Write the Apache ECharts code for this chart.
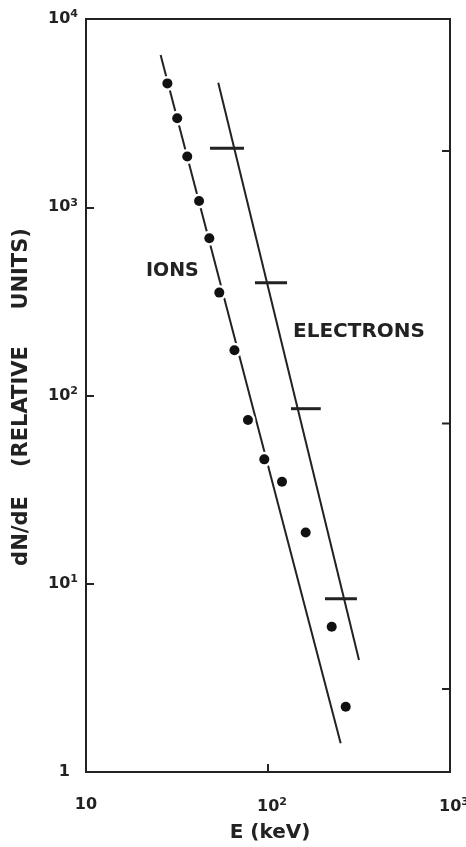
<!DOCTYPE html>
<html><head><meta charset="utf-8">
<script src="https://cdn.jsdelivr.net/npm/echarts@6/dist/echarts.min.js"></script>
<style>html,body{margin:0;padding:0;background:#fff}#c{width:466px;height:847px}</style>
</head><body><div id="c"></div>
<script>
// Ion data points (E in keV, dN/dE relative)
const ionE = [28.0, 31.7, 36.0, 41.8, 47.6, 54.0, 65.4, 77.6, 95.4, 119.4, 161.1, 223.9, 267.3];
const ionN = [4550, 2970, 1860, 1080, 684, 352, 174, 74.1, 45.8, 34.8, 18.7, 5.91, 2.22];
// Ion power-law fit line endpoints
const ionFitE = [25.7, 250.8];
const ionFitN = [6440, 1.42];
// Electron power-law fit line endpoints
const eleFitE = [53.3, 316.2];
const eleFitN = [4590, 3.94];
// Electron energy-channel bars
const eleLo = [48.0, 84.8, 133.8, 205.6];
const eleHi = [73.8, 127.2, 194.9, 308.0];
const eleN = [2056, 397, 85.1, 8.33];
// Extra inward ticks on the right frame
const rightTickN = [1990, 71, 2.76];
// Tick labels
const xTickVals = [10, 100, 1000];
const xTickLabels = ['10', '{m|10}{s|2}', '{m|10}{s|3}'];
const yTickVals = [1, 10, 100, 1000, 10000];
const yTickLabels = ['{o|1}', '10{s|1}', '10{s|2}', '10{s|3}', '10{s|4}'];

const INK = '#222';
const FONT = 'DejaVu Sans';
function lab(vals, labs) {
  return function (v) {
    for (let i = 0; i < vals.length; i++) if (Math.abs(Math.log10(v) - Math.log10(vals[i])) < 1e-6) return labs[i];
    return '';
  };
}
const rich = {
  s: { fontSize: 11, fontWeight: 'bold', fontFamily: FONT, color: INK, padding: [0, 0, 9, 0] },
  m: { fontSize: 16, fontWeight: 'bold', fontFamily: FONT, color: INK, padding: [0, 0, 0, 8] },
  o: { fontSize: 16, fontWeight: 'bold', fontFamily: FONT, color: INK, padding: [0, 8, 0, 0] }
};
const chart = echarts.init(document.getElementById('c'), null, { renderer: 'canvas' });
chart.setOption({
  animation: false,
  backgroundColor: '#fff',
  grid: { left: 86, top: 19, width: 364, height: 753, outerBoundsMode: 'none', containLabel: false, show: true, borderColor: INK, borderWidth: 2, backgroundColor: 'transparent' },
  xAxis: {
    type: 'log', logBase: 10, min: 10, max: 1000,
    axisLine: { show: false },
    axisTick: { show: true, inside: true, length: 8, lineStyle: { color: INK, width: 2 } },
    minorTick: { show: false },
    splitLine: { show: false },
    axisLabel: { margin: 25, fontFamily: FONT, fontWeight: 'bold', fontSize: 16, color: INK, formatter: lab(xTickVals, xTickLabels), rich: rich }
  },
  yAxis: {
    type: 'log', logBase: 10, min: 1, max: 10000,
    axisLine: { show: false },
    axisTick: { show: true, inside: true, length: 8, lineStyle: { color: INK, width: 2 } },
    splitLine: { show: false },
    axisLabel: { margin: 8, fontFamily: FONT, fontWeight: 'bold', fontSize: 16, color: INK, formatter: lab(yTickVals, yTickLabels), rich: rich }
  },
  graphic: [
    { type: 'text', style: { text: 'IONS', x: 146, y: 271, font: 'bold 19px "DejaVu Sans"', fill: INK, verticalAlign: 'middle' } },
    { type: 'text', style: { text: 'ELECTRONS', x: 293, y: 332, font: 'bold 20px "DejaVu Sans"', fill: INK, verticalAlign: 'middle' } },
    { type: 'text', style: { text: 'E (keV)', x: 270, y: 833, font: 'bold 20px "DejaVu Sans"', fill: INK, align: 'center', verticalAlign: 'middle' } },
    { type: 'text', x: 22, y: 397, rotation: Math.PI / 2, style: { text: 'dN/dE    (RELATIVE     UNITS)', x: 0, y: 0, font: 'bold 21px "DejaVu Sans"', fill: INK, align: 'center', verticalAlign: 'middle' } }
  ],
  series: [
    { type: 'line', data: ionFitE.map((e, i) => [e, ionFitN[i]]), symbol: 'none', lineStyle: { color: INK, width: 2 }, z: 1 },
    { type: 'line', data: eleFitE.map((e, i) => [e, eleFitN[i]]), symbol: 'none', lineStyle: { color: INK, width: 2 }, z: 1 },
    { type: 'scatter', data: ionE.map((e, i) => [e, ionN[i]]), symbolSize: 15, itemStyle: { color: '#fff', opacity: 1 }, z: 2, silent: true },
    { type: 'scatter', data: ionE.map((e, i) => [e, ionN[i]]), symbolSize: 10, itemStyle: { color: '#111', opacity: 1 }, z: 3 },
    {
      type: 'custom', z: 4,
      data: eleN.map((n, i) => [eleLo[i], eleHi[i], n]),
      encode: { x: [0, 1], y: 2 },
      renderItem: function (params, api) {
        const a = api.coord([api.value(0), api.value(2)]);
        const b = api.coord([api.value(1), api.value(2)]);
        return { type: 'line', shape: { x1: a[0], y1: a[1], x2: b[0], y2: b[1] }, style: { stroke: INK, lineWidth: 3 } };
      }
    },
    {
      type: 'custom', z: 4, silent: true,
      data: rightTickN.map(n => [1000, n]),
      encode: { x: 0, y: 1 },
      renderItem: function (params, api) {
        const p = api.coord([api.value(0), api.value(1)]);
        return { type: 'line', shape: { x1: p[0], y1: p[1], x2: p[0] - 8, y2: p[1] }, style: { stroke: INK, lineWidth: 2 } };
      }
    }
  ]
});
</script></body></html>
